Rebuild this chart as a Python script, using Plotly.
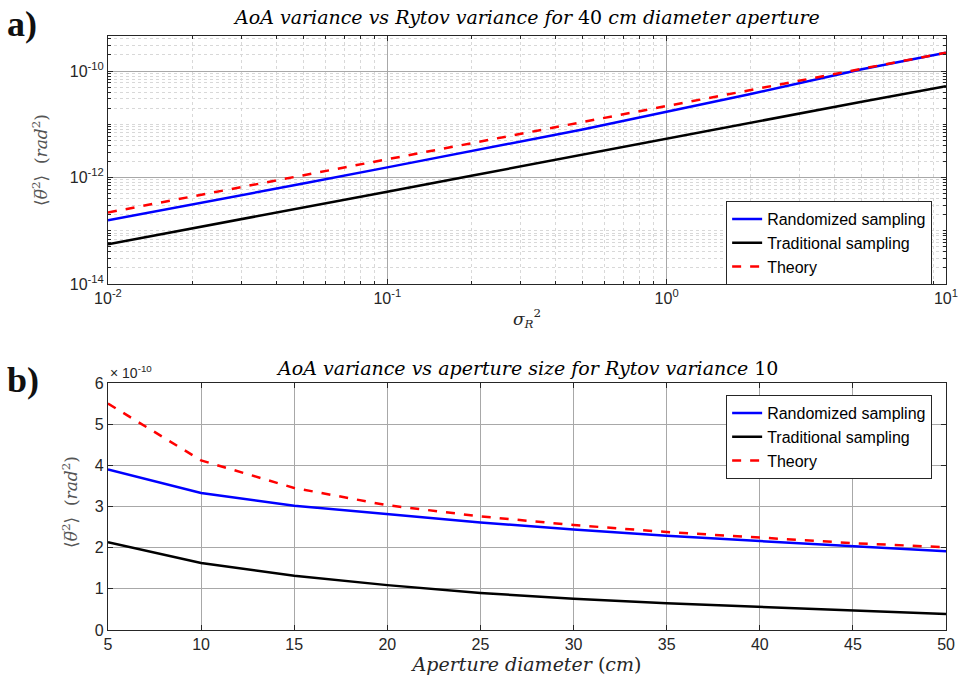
import numpy as np
import plotly.graph_objects as go

# ---- data: panel a (log-log) ----
rytov = [0.01, 0.02, 0.05, 0.1, 0.2, 0.5, 1, 2, 5, 10]
a_random = [1.58e-13, 3.1e-13, 7.7e-13, 1.55e-12, 3.1e-12, 8.0e-12, 1.72e-11, 3.7e-11, 1.08e-10, 2.2e-10]
a_trad = [5.6e-14, 1.1e-13, 2.7e-13, 5.4e-13, 1.08e-12, 2.7e-12, 5.4e-12, 1.07e-11, 2.65e-11, 5.2e-11]
a_theory = [2.2e-13, 4.4e-13, 1.1e-12, 2.2e-12, 4.4e-12, 1.1e-11, 2.2e-11, 4.4e-11, 1.1e-10, 2.2e-10]

# ---- data: panel b ----
aperture = [5, 10, 15, 20, 25, 30, 35, 40, 45, 50]
b_random = [3.9e-10, 3.33e-10, 3.02e-10, 2.81e-10, 2.61e-10, 2.44e-10, 2.29e-10, 2.16e-10, 2.03e-10, 1.91e-10]
b_trad = [2.13e-10, 1.63e-10, 1.32e-10, 1.09e-10, 0.9e-10, 0.76e-10, 0.65e-10, 0.56e-10, 0.47e-10, 0.39e-10]
b_theory = [5.5e-10, 4.12e-10, 3.45e-10, 3.03e-10, 2.76e-10, 2.55e-10, 2.38e-10, 2.24e-10, 2.11e-10, 2.01e-10]

names = ["Randomized sampling", "Traditional sampling", "Theory"]
colors = ["#0000ff", "#000000", "#ff0000"]
dashes = ["solid", "solid", "dash"]

ax_x_ticks = [0.01, 0.1, 1, 10]
ax_x_text = ["10<sup>-2</sup>", "10<sup>-1</sup>", "10<sup>0</sup>", "10<sup>1</sup>"]
ax_y_ticks = [1e-14, 1e-12, 1e-10]
ax_y_text = ["10<sup>-14</sup>", "10<sup>-12</sup>", "10<sup>-10</sup>"]
b_y_ticks = [0, 1e-10, 2e-10, 3e-10, 4e-10, 5e-10, 6e-10]
b_y_text = ["0", "1", "2", "3", "4", "5", "6"]
b_x_ticks = [5, 10, 15, 20, 25, 30, 35, 40, 45, 50]

fig = go.Figure()

for ys, n, c, d in zip([a_random, a_trad, a_theory], names, colors, dashes):
    fig.add_trace(go.Scatter(x=rytov, y=ys, name=n, mode="lines",
                             line=dict(color=c, width=2.5, dash=d),
                             xaxis="x", yaxis="y", legend="legend"))
for ys, n, c, d in zip([b_random, b_trad, b_theory], names, colors, dashes):
    fig.add_trace(go.Scatter(x=aperture, y=ys, name=n, mode="lines",
                             line=dict(color=c, width=2.5, dash=d),
                             xaxis="x2", yaxis="y2", legend="legend2"))

minor_x = [m * 10.0 ** k for k in range(-2, 1) for m in range(1, 10)] + [10]
minor_y = [m * 10.0 ** k for k in range(-14, -9) for m in range(1, 10)]

tickfont = dict(family="Liberation Sans, Arial", size=16, color="#262626")
serif = "DejaVu Serif, Liberation Serif, serif"
axline = dict(showline=True, linecolor="#262626", linewidth=1, mirror="ticks",
              ticks="inside", ticklen=5, tickcolor="#262626", tickfont=tickfont,
              zeroline=False, automargin=False)

ylabel = "⟨<i>θ̅</i><sup>2</sup>⟩  (<i>rad</i><sup>2</sup>)"

fig.update_layout(
    width=958, height=685,
    margin=dict(l=0, r=0, t=0, b=0, autoexpand=False),
    paper_bgcolor="white", plot_bgcolor="white",
    showlegend=True,
    xaxis=dict(type="log", domain=[0.1127, 0.9875], range=[-2, 1.0004], anchor="y",
               tickvals=ax_x_ticks, ticktext=ax_x_text,
               showgrid=True, gridcolor="#a8a8a8", gridwidth=1,
               minor=dict(tickvals=minor_x, showgrid=True, gridcolor="#d8d8d8",
                          griddash="dot", ticks="inside", ticklen=3, tickcolor="#262626"),
               title=dict(text="<i>σ</i><sub><i>R</i></sub><sup>2</sup>",
                          font=dict(family=serif, size=17, color="#262626"), standoff=6),
               **axline),
    yaxis=dict(type="log", domain=[0.5854, 0.9474], range=[-14, -9.343], anchor="x",
               tickvals=ax_y_ticks, ticktext=ax_y_text,
               showgrid=True, gridcolor="#a8a8a8", gridwidth=1,
               minor=dict(tickvals=minor_y, showgrid=True, gridcolor="#d8d8d8",
                          griddash="dot", ticks="inside", ticklen=3, tickcolor="#262626"),
               **axline),
    xaxis2=dict(domain=[0.1127, 0.9875], range=[5, 50], anchor="y2",
                tickvals=b_x_ticks, showgrid=True, gridcolor="#a8a8a8",
                title=dict(text="<i>Aperture diameter</i> (<i>cm</i>)",
                           font=dict(family=serif, size=19, color="#262626"), standoff=4),
                **axline),
    yaxis2=dict(domain=[0.0803, 0.4409], range=[0, 6e-10], anchor="x2",
                tickvals=b_y_ticks, ticktext=b_y_text, showgrid=True, gridcolor="#a8a8a8",
                **axline),
    legend=dict(x=0.973, y=1 - 201 / 685, xanchor="right", yanchor="top",
                bgcolor="white", bordercolor="#262626", borderwidth=1,
                font=dict(family="Liberation Sans, Arial", size=16, color="#000000"),
                tracegroupgap=0),
    legend2=dict(x=0.973, y=1 - 395 / 685, xanchor="right", yanchor="top",
                 bgcolor="white", bordercolor="#262626", borderwidth=1,
                 font=dict(family="Liberation Sans, Arial", size=16, color="#000000"),
                 tracegroupgap=0),
    annotations=[
        dict(text="<i>AoA variance vs Rytov variance for</i> 40 <i>cm diameter aperture</i>",
             x=0.55, y=1 - 17 / 685, xref="paper", yref="paper", showarrow=False,
             xanchor="center", yanchor="middle",
             font=dict(family=serif, size=19, color="#000000")),
        dict(text="<i>AoA variance vs aperture size for Rytov variance</i> 10",
             x=0.55, y=1 - 368 / 685, xref="paper", yref="paper", showarrow=False,
             xanchor="center", yanchor="middle",
             font=dict(family=serif, size=19, color="#000000")),
        dict(text=ylabel, x=40 / 958, y=1 - 160 / 685, xref="paper", yref="paper",
             xanchor="center", yanchor="middle", textangle=-90, showarrow=False,
             font=dict(family=serif, size=17, color="#555555")),
        dict(text=ylabel, x=70 / 958, y=1 - 502 / 685, xref="paper", yref="paper",
             xanchor="center", yanchor="middle", textangle=-90, showarrow=False,
             font=dict(family=serif, size=17, color="#555555")),
        dict(text="<b>a)</b>", x=5 / 958, y=1 - 24 / 685, xref="paper", yref="paper",
             xanchor="left", yanchor="middle", showarrow=False,
             font=dict(family="Liberation Serif, serif", size=36, color="#111111")),
        dict(text="<b>b)</b>", x=5 / 958, y=1 - 380 / 685, xref="paper", yref="paper",
             xanchor="left", yanchor="middle", showarrow=False,
             font=dict(family="Liberation Serif, serif", size=36, color="#111111")),
        dict(text="× 10<sup>-10</sup>", x=108 / 958, y=1 - 372 / 685, xref="paper", yref="paper",
             xanchor="left", yanchor="middle", showarrow=False,
             font=dict(family="Liberation Sans, Arial", size=14, color="#262626")),
    ],
)

fig.write_html("out.html")
